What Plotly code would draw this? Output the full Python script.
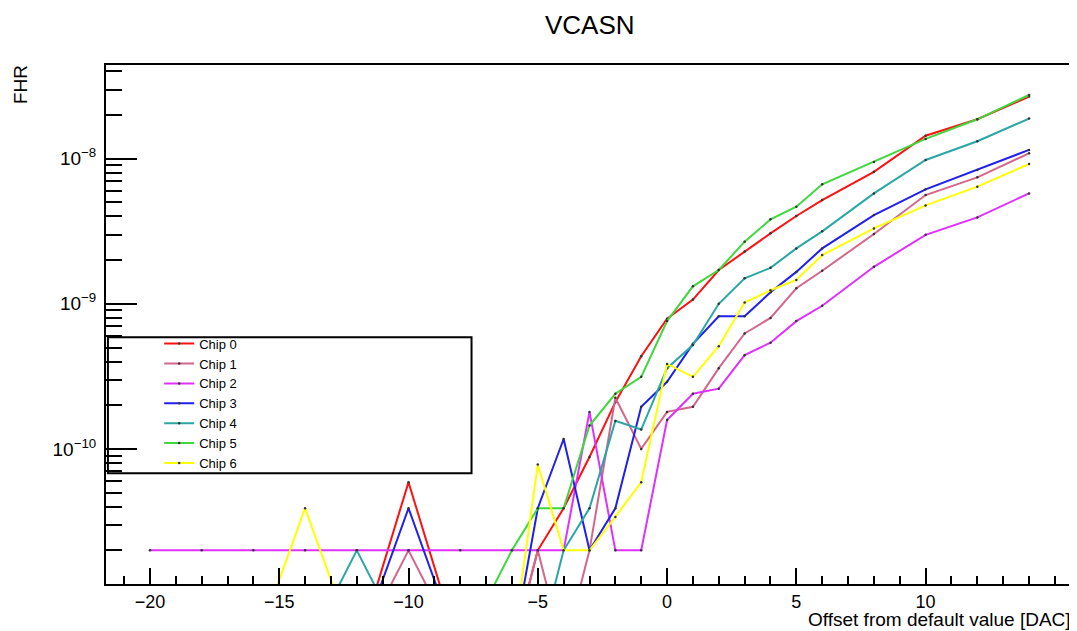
import plotly.graph_objects as go

# x positions (offset from default value, DAC)
offsets = [-20, -18, -16, -14, -12, -10, -8, -6, -5, -4, -3, -2, -1,
           0, 1, 2, 3, 4, 5, 6, 8, 10, 12, 14]

# FHR values; 4e-12 marks "no hits" (drawn off-scale below the axis)
chip0 = [4e-12, 4e-12, 4e-12, 4e-12, 4e-12, 5.9e-11, 4e-12, 4e-12, 2e-11, 3.9e-11, 8.8e-11, 2.1e-10, 4.35e-10,
         7.9e-10, 1.07e-9, 1.71e-9, 2.29e-9, 3.06e-9, 4.03e-9, 5.19e-9, 8.13e-9, 1.44e-8, 1.87e-8, 2.68e-8]
chip1 = [4e-12, 4e-12, 4e-12, 4e-12, 4e-12, 2e-11, 4e-12, 4e-12, 2e-11, 4e-12, 2e-11, 2.25e-10, 1.0e-10,
         1.8e-10, 1.95e-10, 3.6e-10, 6.25e-10, 8.0e-10, 1.28e-9, 1.69e-9, 3.03e-9, 5.62e-9, 7.44e-9, 1.09e-8]
chip2 = [2e-11, 2e-11, 2e-11, 2e-11, 2e-11, 2e-11, 2e-11, 2e-11, 2e-11, 2e-11, 1.8e-10, 2e-11, 2e-11,
         1.58e-10, 2.4e-10, 2.6e-10, 4.43e-10, 5.4e-10, 7.6e-10, 9.7e-10, 1.8e-9, 2.99e-9, 3.94e-9, 5.77e-9]
chip3 = [4e-12, 4e-12, 4e-12, 4e-12, 4e-12, 3.9e-11, 4e-12, 4e-12, 3.9e-11, 1.17e-10, 2e-11, 3.9e-11, 1.95e-10,
         2.9e-10, 5.3e-10, 8.2e-10, 8.2e-10, 1.2e-9, 1.66e-9, 2.41e-9, 4.09e-9, 6.15e-9, 8.36e-9, 1.15e-8]
chip4 = [4e-12, 4e-12, 4e-12, 4e-12, 2e-11, 4e-12, 4e-12, 4e-12, 4e-12, 2e-11, 3.9e-11, 1.56e-10, 1.36e-10,
         3.6e-10, 5.2e-10, 1.0e-9, 1.5e-9, 1.77e-9, 2.41e-9, 3.16e-9, 5.77e-9, 9.8e-9, 1.32e-8, 1.89e-8]
chip5 = [4e-12, 4e-12, 4e-12, 4e-12, 4e-12, 4e-12, 4e-12, 2e-11, 3.9e-11, 3.9e-11, 1.45e-10, 2.4e-10, 3.14e-10,
         7.6e-10, 1.32e-9, 1.71e-9, 2.68e-9, 3.82e-9, 4.67e-9, 6.66e-9, 9.5e-9, 1.37e-8, 1.87e-8, 2.75e-8]
chip6 = [4e-12, 4e-12, 4e-12, 3.9e-11, 4e-12, 4e-12, 4e-12, 4e-12, 7.8e-11, 2e-11, 2e-11, 3.4e-11, 5.9e-11,
         3.85e-10, 3.14e-10, 5.1e-10, 1.02e-9, 1.24e-9, 1.46e-9, 2.17e-9, 3.31e-9, 4.77e-9, 6.42e-9, 9.2e-9]

series_names = ["Chip 0", "Chip 1", "Chip 2", "Chip 3", "Chip 4", "Chip 5", "Chip 6"]
series_values = [chip0, chip1, chip2, chip3, chip4, chip5, chip6]
colors = ["#ff1010", "#d4668a", "#df30ff", "#2020ee", "#2aa6a6", "#3ed83e", "#ffff00"]

y_tickvals = [1e-10, 1e-9, 1e-8]
y_ticktext = ["10<sup>\u221210</sup>", "10<sup>\u22129</sup>", "10<sup>\u22128</sup>"]
x_tickvals = [-20, -15, -10, -5, 0, 5, 10]
x_ticktext = ["\u221220", "\u221215", "\u221210", "\u22125", "0", "5", "10"]

FONT = "Liberation Sans, Arial, Helvetica, sans-serif"

fig = go.Figure()
for name, vals, col in zip(series_names, series_values, colors):
    fig.add_trace(go.Scatter(
        x=offsets, y=vals, name=name, mode="lines+markers",
        line=dict(color=col, width=2),
        marker=dict(color="#333333", size=2.5, line=dict(width=0)),
    ))

# the page body has an 8px margin, so the figure is sized/offset to compensate
fig.update_layout(
    width=1069, height=623,
    margin=dict(l=98, r=2, t=57, b=47),
    paper_bgcolor="white", plot_bgcolor="white",
    font=dict(family=FONT, color="black"),
    showlegend=True,
    legend=dict(
        x=0.055, y=0.492, xanchor="left", yanchor="top",
        bgcolor="rgba(0,0,0,0)", borderwidth=0,
        font=dict(size=13, family=FONT, color="black"),
        tracegroupgap=0, itemwidth=30,
    ),
    xaxis=dict(
        range=[-21.7, 15.7], showgrid=False, zeroline=False,
        showline=True, linecolor="black", linewidth=2, mirror=True,
        ticks="inside", ticklen=16, tickwidth=2, tickcolor="black",
        tickvals=x_tickvals, ticktext=x_ticktext,
        tickfont=dict(size=18, family=FONT),
        minor=dict(ticks="inside", ticklen=8, tickwidth=2, tickcolor="black", dtick=1, showgrid=False),
    ),
    yaxis=dict(
        type="log", range=[-10.931, -7.354], showgrid=False, zeroline=False,
        showline=True, linecolor="black", linewidth=2, mirror=True,
        ticks="inside", ticklen=31, tickwidth=2, tickcolor="black",
        tickvals=y_tickvals, ticktext=y_ticktext,
        tickfont=dict(size=19, family=FONT),
        ticklabelstandoff=4,
        minor=dict(ticks="inside", ticklen=16, tickwidth=2, tickcolor="black", dtick="D1", showgrid=False),
    ),
    shapes=[dict(type="rect", xref="paper", yref="paper",
                 x0=0.002, x1=0.378, y0=0.2134, y1=0.4756,
                 line=dict(color="black", width=2), fillcolor="rgba(0,0,0,0)", layer="above")],
    annotations=[
        dict(text="VCASN", xref="paper", yref="paper", x=0.5, y=1, yshift=40,
             xanchor="center", yanchor="middle", showarrow=False,
             font=dict(size=26, family=FONT)),
        dict(text="Offset from default value [DAC]", xref="paper", yref="paper", x=1, y=0, yshift=-35,
             xanchor="right", yanchor="middle", showarrow=False,
             font=dict(size=19, family=FONT)),
        dict(text="FHR", xref="paper", yref="paper", x=0, xshift=-86, y=1, yshift=-20,
             xanchor="center", yanchor="middle", textangle=-90, showarrow=False,
             font=dict(size=19, family=FONT)),
    ],
)

fig.write_html("out.html")
